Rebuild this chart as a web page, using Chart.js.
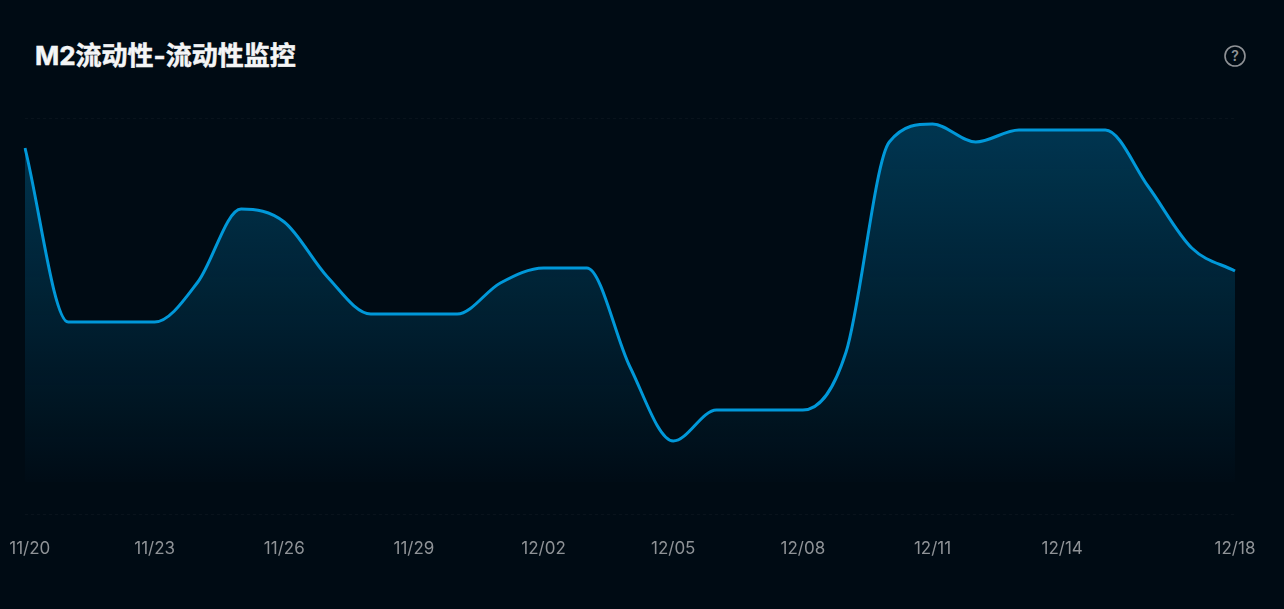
<!DOCTYPE html>
<html lang="zh-CN">
<head>
<meta charset="utf-8">
<title>M2流动性-流动性监控</title>
<script src="https://cdn.jsdelivr.net/npm/chart.js@4"></script>
<style>
  html, body { margin: 0; height: 100%; background: #000b14; overflow: hidden; }
  #wrap { position: relative; width: 1284px; height: 609px; }
  #chartCanvas { position: absolute; left: 0; top: 0; }
  h1 {
    position: absolute; left: 35px; top: 39px; margin: 0;
    font: 700 26px/34px Inter, "Noto Sans CJK SC", sans-serif;
    -webkit-text-stroke: 0.5px #f4f5f6;
    color: #f4f5f6; white-space: nowrap;
  }
  #help { position: absolute; left: 1223px; top: 44px; }
</style>
</head>
<body>
<div id="wrap">
  <h1>M2流动性-流动性监控</h1>
  <svg id="help" width="24" height="24" viewBox="0 0 24 24">
    <circle cx="12" cy="12" r="10" fill="none" stroke="#8f9296" stroke-width="1.6"/>
    <text x="12" y="17" text-anchor="middle" font-family="Inter" font-weight="600" font-size="14" fill="#8f9296">?</text>
  </svg>
  <canvas id="chartCanvas" width="1284" height="609"></canvas>
</div>
<script>
const categories = ['11/20','11/21','11/22','11/23','11/24','11/25','11/26','11/27','11/28','11/29',
  '11/30','12/01','12/02','12/03','12/04','12/05','12/06','12/07','12/08','12/09',
  '12/10','12/11','12/12','12/13','12/14','12/15','12/16','12/17','12/18'];
const tickLabels = ['11/20','11/23','11/26','11/29','12/02','12/05','12/08','12/11','12/14','12/18'];
const m2Values = [366, 192, 192, 192, 232, 305, 292, 237, 200, 200,
  200, 231, 246, 246, 147, 73, 104, 104, 104, 162,
  372, 390, 372, 384, 384, 384, 327, 266, 243];
const yRange = [0, 396];
const fillBase = 32;

const ctx = document.getElementById('chartCanvas').getContext('2d');

new Chart(ctx, {
  type: 'line',
  data: {
    labels: categories,
    datasets: [{
      label: 'M2流动性',
      data: m2Values,
      borderColor: '#0098d9',
      borderWidth: 3,
      pointRadius: 0,
      cubicInterpolationMode: 'monotone',
      fill: { value: fillBase },
      backgroundColor: context => {
        const g = context.chart.ctx.createLinearGradient(0, 124, 0, 482);
        g.addColorStop(0, 'rgba(0, 150, 216, 0.31)');
        g.addColorStop(1, 'rgba(0, 150, 216, 0.01)');
        return g;
      }
    }]
  },
  options: {
    responsive: false,
    animation: false,
    layout: { padding: { left: 25, right: 49, top: 118, bottom: 0 } },
    plugins: { legend: { display: false }, tooltip: { enabled: false } },
    scales: {
      x: {
        grid: { display: false },
        border: { display: false },
        afterFit: scale => {
          scale.height = 95;
          scale.paddingLeft = 0;
          scale.paddingRight = 0;
        },
        ticks: {
          autoSkip: false,
          maxRotation: 0,
          padding: 17,
          color: '#8f9397',
          font: { family: 'Inter', size: 17 },
          callback: function (value, index) {
            const label = this.getLabelForValue(value);
            if (!tickLabels.includes(label)) return '';
            return index === 0 ? '  ' + label : label;
          }
        }
      },
      y: {
        min: yRange[0],
        max: yRange[1],
        afterFit: scale => { scale.width = 0; },
        ticks: { display: false, stepSize: yRange[1] },
        grid: { color: 'rgba(255, 255, 255, 0.035)', drawTicks: false },
        border: { display: false, dash: [3, 3] }
      }
    }
  }
});
</script>
</body>
</html>
